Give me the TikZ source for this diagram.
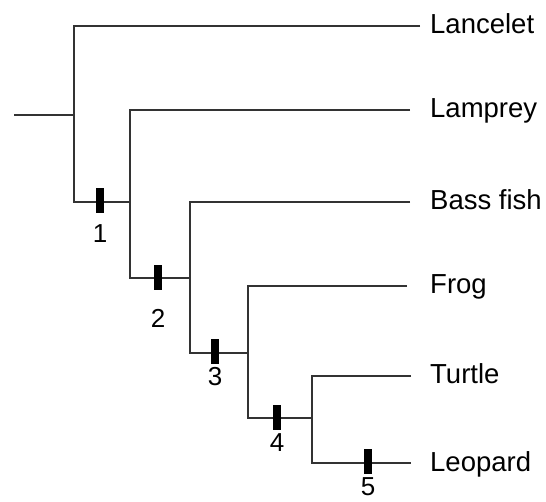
\documentclass[tikz,border=0pt]{standalone}
\usepackage{fontspec}
\setmainfont{Liberation Sans}
\begin{document}
\begin{tikzpicture}[x=1pt,y=-1pt,
  br/.style={line width=1.1pt, black!80},
  tickbox/.style={fill=black, draw=none, minimum width=7.5pt, minimum height=25pt, inner sep=0pt},
  taxon/.style={anchor=base west, inner sep=0pt, font=\fontsize{27.5}{32}\selectfont},
  num/.style={inner sep=0pt, font=\fontsize{26}{30}\selectfont}]
\useasboundingbox (0,0) rectangle (546,502);
% junction coordinates
\coordinate (r) at (14,115);
\coordinate (a) at (74,115);
\coordinate (aT) at (74,26);  \coordinate (aB) at (74,202);
\coordinate (b) at (130,202); \coordinate (bT) at (130,110); \coordinate (bB) at (130,278);
\coordinate (c) at (190,278); \coordinate (cT) at (190,202); \coordinate (cB) at (190,353);
\coordinate (d) at (248,353); \coordinate (dT) at (248,286); \coordinate (dB) at (248,418);
\coordinate (e) at (312,418); \coordinate (eT) at (312,376); \coordinate (eB) at (312,463);
% leaf line ends
\coordinate (tLan) at (420,26);
\coordinate (tLam) at (410,110);
\coordinate (tBas) at (410,202);
\coordinate (tFro) at (407,286);
\coordinate (tTur) at (411,376);
\coordinate (tLeo) at (411,463);
% taxa
\node[taxon] (lan) at (430,34) {Lancelet};
\node[taxon] (lam) at (430,118) {Lamprey};
\node[taxon] (bas) at (430,210) {Bass fish};
\node[taxon] (fro) at (430,294) {Frog};
\node[taxon] (tur) at (430,384) {Turtle};
\node[taxon] (leo) at (430,471) {Leopard};
% branches
\draw[br] (r) -- (a);
\draw[br] (tLan) -- (aT) -- (aB) -- (b);
\draw[br] (tLam) -- (bT) -- (bB) -- (c);
\draw[br] (tBas) -- (cT) -- (cB) -- (d);
\draw[br] (tFro) -- (dT) -- (dB) -- (e);
\draw[br] (tTur) -- (eT) -- (eB) -- (tLeo);
% character ticks
\node[tickbox] (k1) at (100,201) {};
\node[tickbox] (k2) at (158,277.5) {};
\node[tickbox] (k3) at (215,351.5) {};
\node[tickbox] (k4) at (277,417) {};
\node[tickbox] (k5) at (368,461.5) {};
\node[num] (l1) at (100,234) {1};
\node[num] (l2) at (158,318) {2};
\node[num] (l3) at (215,377) {3};
\node[num] (l4) at (277,443) {4};
\node[num] (l5) at (368,487) {5};
\end{tikzpicture}
\end{document}
